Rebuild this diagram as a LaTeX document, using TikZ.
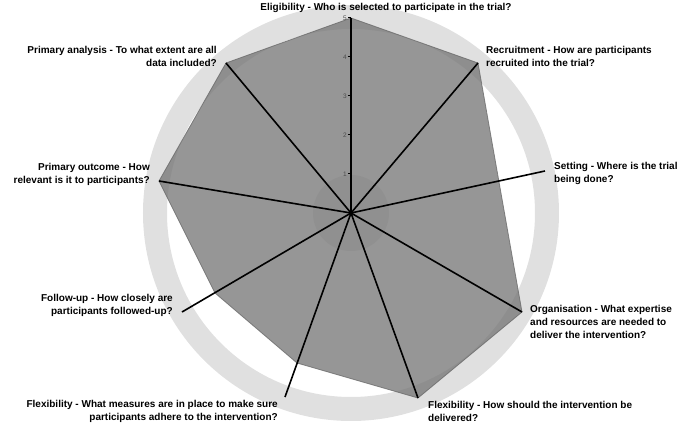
\documentclass[tikz,border=0pt]{standalone}
\usepackage{fontspec}
\setmainfont{Liberation Sans}
\usetikzlibrary{positioning,calc}

\begin{document}
\begin{tikzpicture}[
    x=1pt, y=1pt,
    spoke/.style={line width=1.6pt, black},
    lbl/.style={font=\fontsize{10}{13}\selectfont\bfseries, inner sep=0pt},
    lblL/.style={lbl, align=left, anchor=west},
    lblR/.style={lbl, align=right, anchor=east},
    tick/.style={font=\fontsize{6.5}{7}\selectfont, text=black!70, inner sep=1pt, anchor=east}
]
    \useasboundingbox (-351,-210) rectangle (338,213);
    % ring and centre
    \draw[black!12, line width=24pt] (0,0) circle (196);
    \coordinate (c) at (0,0);
    % spoke ends
    \coordinate (elig) at (0,195);
    \coordinate (recr) at (127,150);
    \coordinate (sett) at (194,42);
    \coordinate (orga) at (171,-99);
    \coordinate (flxd) at (67,-185);
    \coordinate (flxa) at (-66,-184);
    \coordinate (foll) at (-169,-99);
    \coordinate (pout) at (-192,32);
    \coordinate (pana) at (-125,150);
    % scores
    \fill[black!55, opacity=0.75, draw=black!60, line width=0.8pt]
        (elig) -- (recr) -- (orga) -- (flxd) -- (-54,-150) -- (-136,-80)
        -- (pout) -- (pana) -- cycle;
    \fill[black!45, opacity=0.6] (c) circle (38);
    \foreach \e in {elig,recr,sett,orga,flxd,flxa,foll,pout,pana}
        \draw[spoke] (c) -- (\e);
    \foreach \v in {1,...,5} {
        \draw[line width=1pt] (-3,\v*39) -- (0,\v*39);
        \node[tick] at (-3,\v*39) {\v};
    }
    % labels
    \node[lbl, anchor=south] (tElig) at (35,200) {Eligibility - Who is selected to participate in the trial?};
    \node[lblL] (tRecr) at (135,157) {Recruitment - How are participants\\recruited into the trial?};
    \node[lblL] (tSett) at (203,40) {Setting - Where is the trial\\being done?};
    \node[lblL] (tOrga) at (179,-109) {Organisation - What expertise\\and resources are needed to\\deliver the intervention?};
    \node[lblL] (tFlxd) at (77,-198) {Flexibility - How should the intervention be\\delivered?};
    \node[lblR] (tFlxa) at (-73,-198) {Flexibility - What measures are in place to make sure\\participants adhere to the intervention?};
    \node[lblR] (tFoll) at (-178,-92) {Follow-up - How closely are\\participants followed-up?};
    \node[lblR] (tPout) at (-201,39) {Primary outcome - How\\relevant is it to participants?};
    \node[lblR] (tPana) at (-134,157) {Primary analysis - To what extent are all\\data included?};
\end{tikzpicture}
\end{document}
